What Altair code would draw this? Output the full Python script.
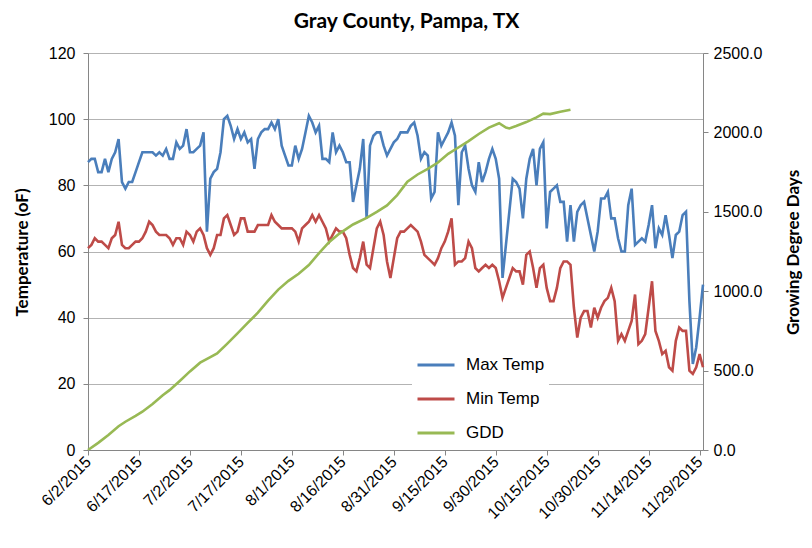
import altair as alt
import pandas as pd

start_date = "2015-06-02"
end_date = "2015-11-30"

max_temp = [
    87, 88, 88, 84, 84, 88, 84, 88, 90, 94,
    81, 79, 81, 81, 84, 87, 90, 90, 90, 90,
    89, 90, 89, 91, 88, 88, 93, 91, 92, 97,
    90, 90, 91, 92, 96, 66, 82, 84, 85, 90,
    100, 101, 98, 94, 97, 94, 96, 93, 94, 85,
    94, 96, 97, 97, 99, 97, 100, 92, 89, 86,
    86, 92, 88, 91, 96, 101, 99, 96, 98, 88,
    88, 87, 96, 90, 92, 90, 87, 87, 75, 80,
    85, 94, 70, 92, 95, 96, 96, 92, 89, 91,
    93, 94, 96, 96, 96, 98, 99, 95, 88, 90,
    89, 76, 78, 96, 92, 94, 96, 99, 95, 74,
    90, 92, 85, 80, 78, 87, 81, 84, 88, 91,
    88, 82, 52, 62, 72, 82, 81, 79, 70, 82,
    88, 91, 80, 91, 93, 67, 78, 79, 80, 75,
    75, 63, 74, 63, 72, 74, 75, 70, 65, 60,
    66, 76, 76, 78, 70, 70, 64, 60, 60, 74,
    79, 62, 63, 64, 63, 68, 74, 61, 67, 65,
    71, 65, 58, 65, 66, 71, 72, 45, 26, 31,
    40, 50,
]

min_temp = [
    61, 62, 64, 63, 63, 62, 61, 64, 65, 69,
    62, 61, 61, 62, 63, 63, 64, 66, 69, 68,
    66, 65, 65, 65, 64, 62, 64, 64, 62, 66,
    65, 63, 66, 67, 65, 61, 59, 61, 65, 65,
    70, 71, 68, 65, 66, 70, 70, 66, 66, 66,
    68, 68, 68, 68, 71, 69, 68, 67, 67, 67,
    67, 66, 63, 67, 68, 69, 71, 69, 71, 69,
    67, 63, 65, 67, 66, 66, 64, 59, 55, 54,
    58, 63, 56, 55, 61, 67, 69, 65, 57, 52,
    58, 64, 66, 66, 67, 68, 67, 66, 63, 59,
    58, 57, 56, 58, 61, 63, 66, 70, 56, 57,
    57, 58, 63, 61, 55, 54, 55, 56, 55, 56,
    55, 51, 46, 49, 52, 55, 54, 54, 50, 59,
    60, 55, 49, 55, 56, 49, 45, 45, 49, 55,
    57, 57, 56, 43, 34, 40, 42, 42, 37, 43,
    40, 43, 45, 46, 49, 45, 33, 35, 33, 36,
    39, 47, 32, 33, 35, 43, 51, 36, 33, 29,
    30, 25, 24, 33, 37, 36, 36, 24, 23, 25,
    29, 25,
]

gdd_day = [0, 3, 6, 9, 11, 14, 16, 19, 22, 24, 27, 30, 33, 36, 38, 41, 44, 47,
           50, 53, 56, 59, 62, 65, 68, 71, 74, 78, 82, 85, 88, 91, 94, 97, 100,
           103, 106, 109, 112, 115, 118, 121, 123, 124, 126, 129, 132, 134, 136,
           139, 142]
gdd_val = [0, 45, 95, 150, 178, 215, 241, 290, 345, 377, 435, 495, 550, 585, 608,
           670, 734, 800, 865, 940, 1010, 1065, 1110, 1165, 1240, 1310, 1363, 1420,
           1462, 1500, 1540, 1605, 1690, 1735, 1770, 1810, 1865, 1905, 1945, 1990,
           2030, 2058, 2030, 2025, 2040, 2065, 2095, 2118, 2115, 2130, 2143]

series_names = ["Max Temp", "Min Temp", "GDD"]
series_colors = ["#4a7ebb", "#be4b48", "#98b954"]

tick_labels = ["6/2/2015", "6/17/2015", "7/2/2015", "7/17/2015", "8/1/2015",
               "8/16/2015", "8/31/2015", "9/15/2015", "9/30/2015", "10/15/2015",
               "10/30/2015", "11/14/2015", "11/29/2015"]
temp_ticks = [0, 20, 40, 60, 80, 100, 120]
gdd_ticks = [0, 500, 1000, 1500, 2000, 2500]


def to_dt(s):
    m, d, y = [int(v) for v in s.split("/")]
    return alt.DateTime(year=y, month=m, date=d)


def iso_dt(s):
    y, m, d = [int(v) for v in s.split("-")]
    return alt.DateTime(year=y, month=m, date=d)


dates = pd.date_range(start_date, periods=len(max_temp), freq="D")
temp_df = pd.concat([
    pd.DataFrame({"date": dates, "value": max_temp, "series": series_names[0]}),
    pd.DataFrame({"date": dates, "value": min_temp, "series": series_names[1]}),
])
gdd_df = pd.DataFrame({
    "date": pd.Timestamp(start_date) + pd.to_timedelta(gdd_day, unit="D"),
    "value": gdd_val,
    "series": series_names[2],
})

AXIS_GRAY = "#868686"
GRID_GRAY = "#b3b3b3"

x_enc = alt.X(
    "date:T",
    scale=alt.Scale(domain=[iso_dt(start_date), iso_dt(end_date)]),
    axis=alt.Axis(
        values=[to_dt(s) for s in tick_labels],
        format="%-m/%-d/%Y",
        labelAngle=315,
        labelAlign="right",
        labelBaseline="middle",
        labelFont="Liberation Sans",
        labelFontSize=16,
        labelColor="#000000",
        labelPadding=4,
        labelFlush=False,
        labelOverlap=False,
        tickSize=5,
        tickColor=AXIS_GRAY,
        domainColor=AXIS_GRAY,
        grid=False,
        title=None,
        zindex=1,
    ),
)

pad = "\u00a0" * 10
color_enc = alt.Color(
    "series:N",
    scale=alt.Scale(domain=series_names, range=series_colors),
    sort=series_names,
    legend=alt.Legend(
        orient="none",
        legendX=324,
        legendY=288,
        title=None,
        symbolType="stroke",
        symbolSize=1369,
        symbolStrokeWidth=3,
        labelFont="Liberation Sans",
        labelFontSize=17,
        labelColor="#000000",
        labelOffset=10,
        labelExpr="datum.label + '" + pad + "'",
        rowPadding=6,
        padding=4,
        fillColor="white",
    ),
)

temps = alt.Chart(temp_df).mark_line(strokeWidth=2.6).encode(
    x=x_enc,
    y=alt.Y(
        "value:Q",
        scale=alt.Scale(domain=[0, 120], nice=False),
        axis=alt.Axis(
            values=temp_ticks,
            title="Temperature (oF)",
            titleFont="Lato",
            titleFontSize=17,
            titleFontWeight="bold",
            titleColor="#000000",
            titleAngle=270,
            titleX=-66,
            titleY=199,
            titleAlign="center",
            titleBaseline="middle",
            labelFont="Liberation Sans",
            labelFontSize=16,
            labelColor="#000000",
            labelPadding=8,
            tickSize=5,
            tickColor=AXIS_GRAY,
            domainColor=AXIS_GRAY,
            gridColor=GRID_GRAY,
            gridWidth=1.2,
        ),
    ),
    color=color_enc,
    detail="series:N",
)

gdd = alt.Chart(gdd_df).mark_line(strokeWidth=2.6).encode(
    x=x_enc,
    y=alt.Y(
        "value:Q",
        scale=alt.Scale(domain=[0, 2500], nice=False),
        axis=alt.Axis(
            orient="right",
            values=gdd_ticks,
            format=".1f",
            title="Growing Degree Days",
            titleFont="Lato",
            titleFontSize=17,
            titleFontWeight="bold",
            titleColor="#000000",
            titleAngle=270,
            titleX=90,
            titleY=199,
            titleAlign="center",
            titleBaseline="middle",
            labelFont="Liberation Sans",
            labelFontSize=16,
            labelColor="#000000",
            labelPadding=5,
            tickSize=5,
            tickColor=AXIS_GRAY,
            domainColor=AXIS_GRAY,
            grid=False,
        ),
    ),
    color=color_enc,
)

chart = alt.layer(temps, gdd).resolve_scale(y="independent").properties(
    width=615,
    height=397,
    autosize=alt.AutoSizeParams(type="none"),
    padding={"left": 80, "top": 45, "right": 101, "bottom": 90},
    title=alt.TitleParams(
        "Gray County, Pampa, TX",
        font="Lato",
        fontSize=21,
        fontWeight="bold",
        color="#000000",
        anchor="middle",
        dx=11,
        offset=13,
    ),
).configure_view(stroke=None)

chart.save("out.html", embed_options={"renderer": "svg", "actions": False})
